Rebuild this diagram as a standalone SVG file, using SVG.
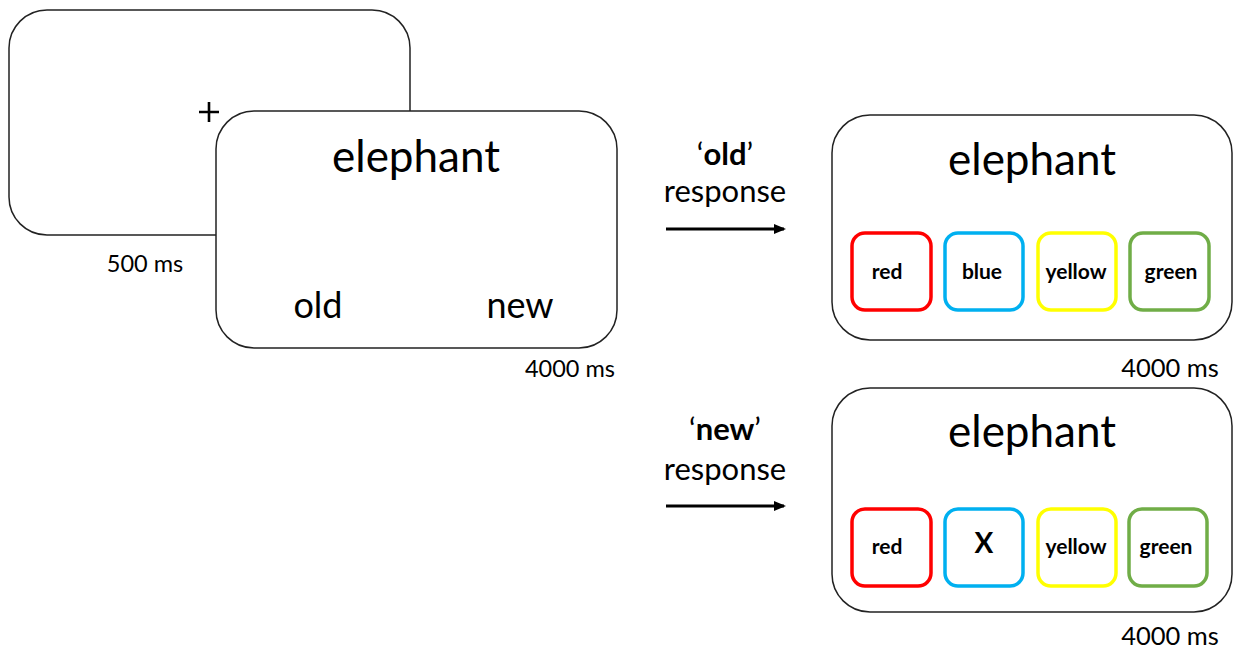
<svg xmlns="http://www.w3.org/2000/svg" width="1237" height="650" viewBox="0 0 1237 650">
<defs>
<style>
.screen{fill:#fff;stroke:#222;stroke-width:1.5}
.t{font-family:Lato,"Liberation Sans",sans-serif;fill:#000}
.big{font-size:44px}
.mid{font-size:36px}
.resp{font-size:31px}
.ms{font-size:23.5px}
.ms2{font-size:25.5px}
.lab{font-size:21px;font-weight:bold}
.key{fill:#fff;stroke-width:3.5}
.conn{stroke:#000;stroke-width:3;fill:none}
</style>
<marker id="ah" markerWidth="12" markerHeight="12" refX="10" refY="5" orient="auto" markerUnits="userSpaceOnUse" viewBox="0 0 12 10">
<path d="M0,0 L12,5 L0,10 Z" fill="#000"/>
</marker>
</defs>
<rect width="1237" height="650" fill="#fff"/>
<g id="fixation">
<rect class="screen" x="9" y="10" width="401" height="225" rx="38"/>
<path d="M209,102 V122 M199,112 H219" stroke="#000" stroke-width="2.6"/>
<text class="t ms" x="145" y="272" text-anchor="middle">500 ms</text>
</g>
<g id="study">
<rect class="screen" x="216" y="111" width="401" height="237" rx="38"/>
<text class="t big" x="416" y="172" text-anchor="middle">elephant</text>
<text class="t mid" x="318" y="318" text-anchor="middle">old</text>
<text class="t mid" x="520" y="318" text-anchor="middle">new</text>
<text class="t ms" x="570" y="377" text-anchor="middle">4000 ms</text>
</g>
<g id="connectors">
<line class="conn" x1="666" y1="229" x2="784" y2="229" marker-end="url(#ah)"/>
<line class="conn" x1="666" y1="506" x2="784" y2="506" marker-end="url(#ah)"/>
</g>
<g id="label-old">
<text class="t resp" x="725" y="165" text-anchor="middle">‘<tspan font-weight="bold">old</tspan>’</text>
<text class="t resp" x="725" y="202" text-anchor="middle">response</text>
</g>
<g id="label-new">
<text class="t resp" x="725" y="440" text-anchor="middle">‘<tspan font-weight="bold">new</tspan>’</text>
<text class="t resp" x="725" y="480" text-anchor="middle">response</text>
</g>
<g id="old-screen">
<rect class="screen" x="832" y="115" width="400" height="225" rx="38"/>
<text class="t big" x="1032" y="175" text-anchor="middle">elephant</text>
<rect class="key" x="852" y="233" width="79" height="77" rx="13" stroke="#FF0000"/>
<rect class="key" x="945" y="233" width="78" height="77" rx="13" stroke="#00B0F0"/>
<rect class="key" x="1038" y="233" width="78" height="77" rx="13" stroke="#FFFF00"/>
<rect class="key" x="1130" y="233" width="79" height="77" rx="13" stroke="#70AD47"/>
<text class="t lab" x="887" y="279" text-anchor="middle">red</text>
<text class="t lab" x="982" y="279" text-anchor="middle">blue</text>
<text class="t lab" x="1076" y="279" text-anchor="middle">yellow</text>
<text class="t lab" x="1171" y="279" text-anchor="middle">green</text>
<text class="t ms2" x="1170" y="377" text-anchor="middle">4000 ms</text>
</g>
<g id="new-screen">
<rect class="screen" x="832" y="388" width="400" height="224" rx="38"/>
<text class="t big" x="1032" y="447" text-anchor="middle">elephant</text>
<rect class="key" x="852" y="509" width="79" height="77" rx="13" stroke="#FF0000"/>
<rect class="key" x="945" y="509" width="78" height="77" rx="13" stroke="#00B0F0"/>
<rect class="key" x="1038" y="509" width="78" height="77" rx="13" stroke="#FFFF00"/>
<rect class="key" x="1129" y="509" width="78" height="77" rx="13" stroke="#70AD47"/>
<text class="t lab" x="887" y="554" text-anchor="middle">red</text>
<text class="t" x="984" y="553" font-size="28" font-weight="bold" text-anchor="middle">X</text>
<text class="t lab" x="1076" y="554" text-anchor="middle">yellow</text>
<text class="t lab" x="1166" y="554" text-anchor="middle">green</text>
<text class="t ms2" x="1170" y="645" text-anchor="middle">4000 ms</text>
</g>
</svg>
